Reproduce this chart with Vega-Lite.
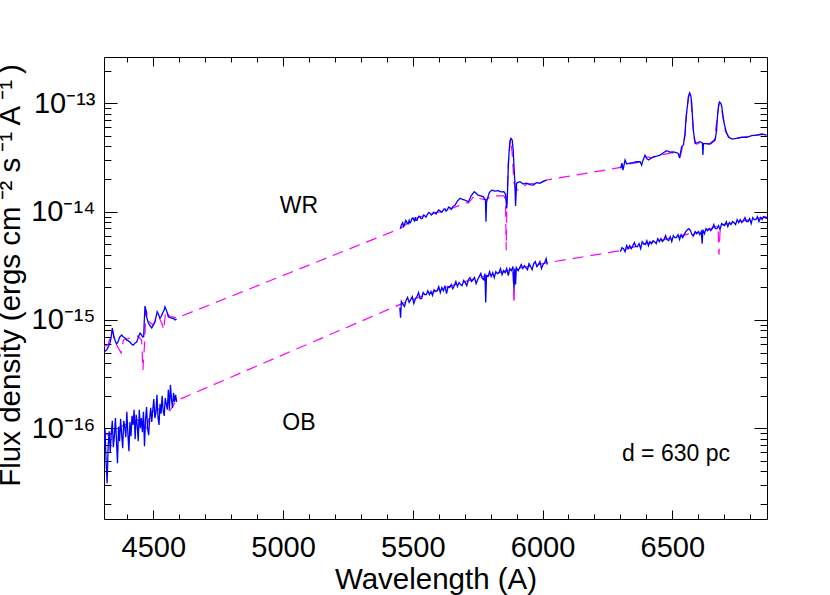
{
  "$schema": "https://vega.github.io/schema/vega-lite/v6.json",
  "width": 663,
  "height": 462,
  "autosize": {"type": "none"},
  "padding": {"left": 104, "top": 57, "right": 63, "bottom": 76},
  "background": "white",
  "config": {"view": {"stroke": null}, "font": "Liberation Sans"},
  "datasets": {
    "model": [
      {"g":"WRm","w":4310,"f":5.7e-16},{"g":"WRm","w":4325,"f":5.86e-16},{"g":"WRm","w":4342,"f":8.1e-16},{"g":"WRm","w":4352,"f":6.25e-16},{"g":"WRm","w":4376,"f":4.95e-16},{"g":"WRm","w":4385,"f":6.52e-16},{"g":"WRm","w":4410,"f":6.81e-16},{"g":"WRm","w":4440,"f":7.1e-16},{"g":"WRm","w":4455,"f":6.52e-16},{"g":"WRm","w":4460,"f":3.45e-16},{"g":"WRm","w":4466,"f":5.86e-16},{"g":"WRm","w":4472,"f":1.23e-15},{"g":"WRm","w":4485,"f":9.56e-16},{"g":"WRm","w":4500,"f":8.97e-16},{"g":"WRm","w":4520,"f":1.09e-15},{"g":"WRm","w":4535,"f":8.97e-16},{"g":"WRm","w":4540,"f":8.07e-16},{"g":"WRm","w":4548,"f":1.23e-15},{"g":"WRm","w":4560,"f":1.09e-15},{"g":"WRm","w":4590,"f":1.04e-15},
      {"g":"WRm","w":5453,"f":7.0e-15},{"g":"WRm","w":5500,"f":8.5e-15},{"g":"WRm","w":5560,"f":9.5e-15},{"g":"WRm","w":5610,"f":1.0e-14},{"g":"WRm","w":5650,"f":1.07e-14},{"g":"WRm","w":5682,"f":1.15e-14},{"g":"WRm","w":5700,"f":1.22e-14},{"g":"WRm","w":5714,"f":1.2e-14},{"g":"WRm","w":5737,"f":1.4e-14},{"g":"WRm","w":5752,"f":1.33e-14},{"g":"WRm","w":5772,"f":1.3e-14},{"g":"WRm","w":5786,"f":1.3e-14},{"g":"WRm","w":5804,"f":1.4e-14},{"g":"WRm","w":5851,"f":1.4e-14},{"g":"WRm","w":5857,"f":1.3e-14},{"g":"WRm","w":5860,"f":4.4e-15},{"g":"WRm","w":5863,"f":1.2e-14},{"g":"WRm","w":5868,"f":2.79e-14},{"g":"WRm","w":5876,"f":4.65e-14},{"g":"WRm","w":5883,"f":3.45e-14},{"g":"WRm","w":5890,"f":1.83e-14},{"g":"WRm","w":5900,"f":1.58e-14},{"g":"WRm","w":5913,"f":1.6e-14},{"g":"WRm","w":5939,"f":1.8e-14},{"g":"WRm","w":5990,"f":1.85e-14},{"g":"WRm","w":6016,"f":1.96e-14},
      {"g":"WRm","w":6301,"f":2.56e-14},{"g":"WRm","w":6330,"f":2.75e-14},{"g":"WRm","w":6370,"f":2.85e-14},{"g":"WRm","w":6395,"f":3.2e-14},{"g":"WRm","w":6420,"f":3.15e-14},{"g":"WRm","w":6460,"f":3.35e-14},{"g":"WRm","w":6500,"f":3.5e-14},{"g":"WRm","w":6520,"f":3.35e-14},{"g":"WRm","w":6530,"f":3.2e-14},{"g":"WRm","w":6540,"f":4.0e-14},{"g":"WRm","w":6549,"f":5.0e-14},{"g":"WRm","w":6555,"f":8.0e-14},{"g":"WRm","w":6562,"f":1.15e-13},{"g":"WRm","w":6567,"f":1.22e-13},{"g":"WRm","w":6572,"f":1.1e-13},{"g":"WRm","w":6578,"f":7.0e-14},{"g":"WRm","w":6584,"f":4.8e-14},{"g":"WRm","w":6592,"f":4.2e-14},{"g":"WRm","w":6610,"f":4.3e-14},{"g":"WRm","w":6640,"f":4.2e-14},{"g":"WRm","w":6662,"f":4.6e-14},{"g":"WRm","w":6672,"f":7.0e-14},{"g":"WRm","w":6679,"f":9.6e-14},{"g":"WRm","w":6684,"f":1.0e-13},{"g":"WRm","w":6690,"f":9.0e-14},{"g":"WRm","w":6697,"f":7.0e-14},{"g":"WRm","w":6705,"f":5.5e-14},{"g":"WRm","w":6720,"f":4.8e-14},{"g":"WRm","w":6760,"f":4.8e-14},{"g":"WRm","w":6800,"f":5.0e-14},{"g":"WRm","w":6864,"f":5.2e-14},
      {"g":"OBm","w":4310,"f":9.0e-17},{"g":"OBm","w":4330,"f":8.5e-17},{"g":"OBm","w":4360,"f":1.0e-16},{"g":"OBm","w":4400,"f":1.1e-16},{"g":"OBm","w":4440,"f":1.2e-16},{"g":"OBm","w":4474,"f":9.6e-17},{"g":"OBm","w":4487,"f":1.39e-16},{"g":"OBm","w":4520,"f":1.5e-16},{"g":"OBm","w":4564,"f":1.45e-16},{"g":"OBm","w":4590,"f":1.8e-16},
      {"g":"OBm","w":5451,"f":1.39e-15},{"g":"OBm","w":5600,"f":1.9e-15},{"g":"OBm","w":5700,"f":2.26e-15},{"g":"OBm","w":5800,"f":2.62e-15},{"g":"OBm","w":5880,"f":2.91e-15},{"g":"OBm","w":5886,"f":2.95e-15},{"g":"OBm","w":5890,"f":1.4e-15},{"g":"OBm","w":5894,"f":2.95e-15},{"g":"OBm","w":6020,"f":3.38e-15},
      {"g":"OBm","w":6300,"f":4.36e-15},{"g":"OBm","w":6400,"f":5.06e-15},{"g":"OBm","w":6500,"f":5.75e-15},{"g":"OBm","w":6560,"f":6.2e-15},{"g":"OBm","w":6575,"f":6.6e-15},{"g":"OBm","w":6580,"f":5.9e-15},{"g":"OBm","w":6585,"f":6.3e-15},{"g":"OBm","w":6650,"f":7.0e-15},{"g":"OBm","w":6676,"f":7.4e-15},{"g":"OBm","w":6680,"f":4.01e-15},{"g":"OBm","w":6685,"f":7.5e-15},{"g":"OBm","w":6750,"f":8.0e-15},{"g":"OBm","w":6864,"f":9.0e-15}
    ],
    "obs": [
      {"g":"WR1","w":4310,"f":5.05e-16},{"g":"WR1","w":4320,"f":5.27e-16},{"g":"WR1","w":4326,"f":5.6e-16},{"g":"WR1","w":4333,"f":6.12e-16},{"g":"WR1","w":4337,"f":6.8e-16},{"g":"WR1","w":4342,"f":8.42e-16},{"g":"WR1","w":4347,"f":7.2e-16},{"g":"WR1","w":4352,"f":6.52e-16},{"g":"WR1","w":4358,"f":6.0e-16},{"g":"WR1","w":4364,"f":6.25e-16},{"g":"WR1","w":4370,"f":6.9e-16},{"g":"WR1","w":4378,"f":7.25e-16},{"g":"WR1","w":4384,"f":7.0e-16},{"g":"WR1","w":4391,"f":6.81e-16},{"g":"WR1","w":4398,"f":6.5e-16},{"g":"WR1","w":4404,"f":6.4e-16},{"g":"WR1","w":4410,"f":6.25e-16},{"g":"WR1","w":4416,"f":6.0e-16},{"g":"WR1","w":4423,"f":5.86e-16},{"g":"WR1","w":4429,"f":6.1e-16},{"g":"WR1","w":4436,"f":6.25e-16},{"g":"WR1","w":4443,"f":7.0e-16},{"g":"WR1","w":4449,"f":7.57e-16},{"g":"WR1","w":4454,"f":7.3e-16},{"g":"WR1","w":4459,"f":6.95e-16},{"g":"WR1","w":4463,"f":7.0e-16},{"g":"WR1","w":4465,"f":9.5e-16},{"g":"WR1","w":4468,"f":1.343e-15},{"g":"WR1","w":4471,"f":1.25e-15},{"g":"WR1","w":4475,"f":1.05e-15},{"g":"WR1","w":4481,"f":9.36e-16},{"g":"WR1","w":4488,"f":8.8e-16},{"g":"WR1","w":4494,"f":8.42e-16},{"g":"WR1","w":4500,"f":9.0e-16},{"g":"WR1","w":4506,"f":9.62e-16},{"g":"WR1","w":4510,"f":1.05e-15},{"g":"WR1","w":4515,"f":1.19e-15},{"g":"WR1","w":4520,"f":1.12e-15},{"g":"WR1","w":4526,"f":1.04e-15},{"g":"WR1","w":4531,"f":1.08e-15},{"g":"WR1","w":4536,"f":1.16e-15},{"g":"WR1","w":4541,"f":1.22e-15},{"g":"WR1","w":4545,"f":1.32e-15},{"g":"WR1","w":4552,"f":1.2e-15},{"g":"WR1","w":4558,"f":1.07e-15},{"g":"WR1","w":4564,"f":1.05e-15},{"g":"WR1","w":4571,"f":1.04e-15},{"g":"WR1","w":4578,"f":1.03e-15},{"g":"WR1","w":4584,"f":1.0e-15},{"g":"WR1","w":4590,"f":1.02e-15},
      {"g":"WR2","w":5453,"f":7.01e-15},{"g":"WR2","w":5455,"f":7.4e-15},{"g":"WR2","w":5458,"f":7.68e-15},{"g":"WR2","w":5461,"f":7.9e-15},{"g":"WR2","w":5464,"f":7.3e-15},{"g":"WR2","w":5467,"f":7.5e-15},{"g":"WR2","w":5470,"f":7.9e-15},{"g":"WR2","w":5473,"f":8.3e-15},{"g":"WR2","w":5476,"f":8.07e-15},{"g":"WR2","w":5479,"f":7.8e-15},{"g":"WR2","w":5482,"f":7.7e-15},{"g":"WR2","w":5486,"f":8.3e-15},{"g":"WR2","w":5489,"f":7.85e-15},{"g":"WR2","w":5492,"f":8.0e-15},{"g":"WR2","w":5495,"f":8.4e-15},{"g":"WR2","w":5498,"f":8.7e-15},{"g":"WR2","w":5501,"f":8.73e-15},{"g":"WR2","w":5504,"f":8.4e-15},{"g":"WR2","w":5507,"f":8.2e-15},{"g":"WR2","w":5510,"f":8.9e-15},{"g":"WR2","w":5512,"f":8.36e-15},{"g":"WR2","w":5516,"f":8.3e-15},{"g":"WR2","w":5520,"f":8.8e-15},{"g":"WR2","w":5524,"f":9.1e-15},{"g":"WR2","w":5528,"f":8.97e-15},{"g":"WR2","w":5532,"f":8.6e-15},{"g":"WR2","w":5537,"f":8.7e-15},{"g":"WR2","w":5542,"f":9.3e-15},{"g":"WR2","w":5547,"f":9.11e-15},{"g":"WR2","w":5551,"f":8.9e-15},{"g":"WR2","w":5556,"f":9.4e-15},{"g":"WR2","w":5561,"f":9.8e-15},{"g":"WR2","w":5566,"f":9.71e-15},{"g":"WR2","w":5571,"f":9.3e-15},{"g":"WR2","w":5576,"f":9.5e-15},{"g":"WR2","w":5581,"f":9.9e-15},{"g":"WR2","w":5586,"f":9.71e-15},{"g":"WR2","w":5590,"f":9.5e-15},{"g":"WR2","w":5595,"f":1.0e-14},{"g":"WR2","w":5600,"f":1.04e-14},{"g":"WR2","w":5605,"f":1.02e-14},{"g":"WR2","w":5609,"f":9.9e-15},{"g":"WR2","w":5614,"f":1.0e-14},{"g":"WR2","w":5619,"f":1.05e-14},{"g":"WR2","w":5624,"f":1.06e-14},{"g":"WR2","w":5628,"f":1.01e-14},{"g":"WR2","w":5633,"f":1.04e-14},{"g":"WR2","w":5638,"f":1.1e-14},{"g":"WR2","w":5643,"f":1.09e-14},{"g":"WR2","w":5648,"f":1.05e-14},{"g":"WR2","w":5653,"f":1.1e-14},{"g":"WR2","w":5658,"f":1.13e-14},{"g":"WR2","w":5663,"f":1.15e-14},{"g":"WR2","w":5672,"f":1.25e-14},{"g":"WR2","w":5682,"f":1.33e-14},{"g":"WR2","w":5691,"f":1.3e-14},{"g":"WR2","w":5701,"f":1.28e-14},{"g":"WR2","w":5714,"f":1.23e-14},{"g":"WR2","w":5725,"f":1.4e-14},{"g":"WR2","w":5737,"f":1.53e-14},{"g":"WR2","w":5745,"f":1.47e-14},{"g":"WR2","w":5752,"f":1.42e-14},{"g":"WR2","w":5762,"f":1.4e-14},{"g":"WR2","w":5772,"f":1.37e-14},{"g":"WR2","w":5778,"f":1.3e-14},{"g":"WR2","w":5780,"f":1.28e-14},{"g":"WR2","w":5782,"f":8.07e-15},{"g":"WR2","w":5784,"f":1.2e-14},{"g":"WR2","w":5786,"f":1.28e-14},{"g":"WR2","w":5795,"f":1.5e-14},{"g":"WR2","w":5804,"f":1.58e-14},{"g":"WR2","w":5816,"f":1.55e-14},{"g":"WR2","w":5829,"f":1.56e-14},{"g":"WR2","w":5840,"f":1.52e-14},{"g":"WR2","w":5851,"f":1.53e-14},{"g":"WR2","w":5857,"f":1.45e-14},{"g":"WR2","w":5862,"f":1.07e-14},{"g":"WR2","w":5865,"f":1.5e-14},{"g":"WR2","w":5868,"f":2.6e-14},{"g":"WR2","w":5871,"f":3.5e-14},{"g":"WR2","w":5874,"f":4.39e-14},{"g":"WR2","w":5878,"f":4.75e-14},{"g":"WR2","w":5883,"f":4.58e-14},{"g":"WR2","w":5887,"f":3.7e-14},{"g":"WR2","w":5890,"f":2.6e-14},{"g":"WR2","w":5893,"f":1.96e-14},{"g":"WR2","w":5896,"f":1.13e-14},{"g":"WR2","w":5900,"f":1.83e-14},{"g":"WR2","w":5906,"f":1.86e-14},{"g":"WR2","w":5913,"f":1.89e-14},{"g":"WR2","w":5926,"f":1.8e-14},{"g":"WR2","w":5939,"f":1.83e-14},{"g":"WR2","w":5951,"f":1.78e-14},{"g":"WR2","w":5964,"f":1.76e-14},{"g":"WR2","w":5977,"f":1.85e-14},{"g":"WR2","w":5990,"f":1.83e-14},{"g":"WR2","w":6003,"f":1.9e-14},{"g":"WR2","w":6016,"f":1.96e-14},
      {"g":"WR3","w":6301,"f":2.51e-14},{"g":"WR3","w":6306,"f":2.81e-14},{"g":"WR3","w":6310,"f":2.42e-14},{"g":"WR3","w":6318,"f":3.0e-14},{"g":"WR3","w":6324,"f":2.75e-14},{"g":"WR3","w":6336,"f":2.8e-14},{"g":"WR3","w":6349,"f":2.83e-14},{"g":"WR3","w":6362,"f":2.9e-14},{"g":"WR3","w":6376,"f":2.89e-14},{"g":"WR3","w":6382,"f":2.69e-14},{"g":"WR3","w":6387,"f":2.97e-14},{"g":"WR3","w":6395,"f":3.33e-14},{"g":"WR3","w":6401,"f":3.1e-14},{"g":"WR3","w":6408,"f":3.0e-14},{"g":"WR3","w":6417,"f":3.1e-14},{"g":"WR3","w":6427,"f":3.21e-14},{"g":"WR3","w":6440,"f":3.25e-14},{"g":"WR3","w":6453,"f":3.33e-14},{"g":"WR3","w":6466,"f":3.5e-14},{"g":"WR3","w":6478,"f":3.65e-14},{"g":"WR3","w":6491,"f":3.55e-14},{"g":"WR3","w":6504,"f":3.57e-14},{"g":"WR3","w":6515,"f":3.5e-14},{"g":"WR3","w":6523,"f":3.45e-14},{"g":"WR3","w":6528,"f":3.13e-14},{"g":"WR3","w":6536,"f":3.97e-14},{"g":"WR3","w":6543,"f":4.12e-14},{"g":"WR3","w":6549,"f":5.28e-14},{"g":"WR3","w":6554,"f":7.8e-14},{"g":"WR3","w":6558,"f":9.3e-14},{"g":"WR3","w":6563,"f":1.17e-13},{"g":"WR3","w":6567,"f":1.25e-13},{"g":"WR3","w":6571,"f":1.19e-13},{"g":"WR3","w":6575,"f":1.0e-13},{"g":"WR3","w":6578,"f":7.32e-14},{"g":"WR3","w":6581,"f":5.67e-14},{"g":"WR3","w":6588,"f":4.27e-14},{"g":"WR3","w":6598,"f":4.35e-14},{"g":"WR3","w":6607,"f":4.42e-14},{"g":"WR3","w":6616,"f":4.3e-14},{"g":"WR3","w":6618,"f":3.33e-14},{"g":"WR3","w":6620,"f":4.27e-14},{"g":"WR3","w":6633,"f":4.25e-14},{"g":"WR3","w":6646,"f":4.21e-14},{"g":"WR3","w":6656,"f":4.4e-14},{"g":"WR3","w":6665,"f":4.58e-14},{"g":"WR3","w":6671,"f":5.67e-14},{"g":"WR3","w":6674,"f":7.52e-14},{"g":"WR3","w":6679,"f":9.85e-14},{"g":"WR3","w":6682,"f":1.03e-13},{"g":"WR3","w":6687,"f":1.0e-13},{"g":"WR3","w":6691,"f":9.3e-14},{"g":"WR3","w":6696,"f":7.47e-14},{"g":"WR3","w":6700,"f":6.54e-14},{"g":"WR3","w":6708,"f":5.43e-14},{"g":"WR3","w":6716,"f":4.91e-14},{"g":"WR3","w":6730,"f":4.68e-14},{"g":"WR3","w":6748,"f":4.75e-14},{"g":"WR3","w":6768,"f":4.88e-14},{"g":"WR3","w":6787,"f":4.85e-14},{"g":"WR3","w":6806,"f":5.04e-14},{"g":"WR3","w":6825,"f":5.1e-14},{"g":"WR3","w":6845,"f":5.21e-14},{"g":"WR3","w":6864,"f":5.1e-14},
      {"g":"OB1","w":4310,"f":6.97e-17},{"g":"OB1","w":4314,"f":9.79e-17},{"g":"OB1","w":4318,"f":4.96e-17},{"g":"OB1","w":4322,"f":3.11e-17},{"g":"OB1","w":4326,"f":6.82e-17},{"g":"OB1","w":4330,"f":9.38e-17},{"g":"OB1","w":4334,"f":6.0e-17},{"g":"OB1","w":4338,"f":8.99e-17},{"g":"OB1","w":4342,"f":1.17e-16},{"g":"OB1","w":4346,"f":6.68e-17},{"g":"OB1","w":4350,"f":8.44e-17},{"g":"OB1","w":4354,"f":1.24e-16},{"g":"OB1","w":4358,"f":7.75e-17},{"g":"OB1","w":4362,"f":4.75e-17},{"g":"OB1","w":4366,"f":1.03e-16},{"g":"OB1","w":4370,"f":7.59e-17},{"g":"OB1","w":4374,"f":1.22e-16},{"g":"OB1","w":4378,"f":8.8e-17},{"g":"OB1","w":4382,"f":6.54e-17},{"g":"OB1","w":4386,"f":1.17e-16},{"g":"OB1","w":4390,"f":1.03e-16},{"g":"OB1","w":4394,"f":8.26e-17},{"g":"OB1","w":4398,"f":1.42e-16},{"g":"OB1","w":4402,"f":8.99e-17},{"g":"OB1","w":4406,"f":6.13e-17},{"g":"OB1","w":4410,"f":1.14e-16},{"g":"OB1","w":4414,"f":8.44e-17},{"g":"OB1","w":4418,"f":1.3e-16},{"g":"OB1","w":4422,"f":1.07e-16},{"g":"OB1","w":4426,"f":1.48e-16},{"g":"OB1","w":4430,"f":7.92e-17},{"g":"OB1","w":4434,"f":1.33e-16},{"g":"OB1","w":4438,"f":1.07e-16},{"g":"OB1","w":4442,"f":7.59e-17},{"g":"OB1","w":4446,"f":1.48e-16},{"g":"OB1","w":4450,"f":1.0e-16},{"g":"OB1","w":4454,"f":1.24e-16},{"g":"OB1","w":4458,"f":9.18e-17},{"g":"OB1","w":4462,"f":1.42e-16},{"g":"OB1","w":4466,"f":6.82e-17},{"g":"OB1","w":4470,"f":1.19e-16},{"g":"OB1","w":4474,"f":1.57e-16},{"g":"OB1","w":4478,"f":1.0e-16},{"g":"OB1","w":4482,"f":8.62e-17},{"g":"OB1","w":4486,"f":1.22e-16},{"g":"OB1","w":4490,"f":1.54e-16},{"g":"OB1","w":4494,"f":1.14e-16},{"g":"OB1","w":4498,"f":1.48e-16},{"g":"OB1","w":4502,"f":1.86e-16},{"g":"OB1","w":4506,"f":1.24e-16},{"g":"OB1","w":4510,"f":1.39e-16},{"g":"OB1","w":4514,"f":2.03e-16},{"g":"OB1","w":4518,"f":1.27e-16},{"g":"OB1","w":4522,"f":1.07e-16},{"g":"OB1","w":4526,"f":1.68e-16},{"g":"OB1","w":4530,"f":1.36e-16},{"g":"OB1","w":4534,"f":1.99e-16},{"g":"OB1","w":4538,"f":1.45e-16},{"g":"OB1","w":4542,"f":1.3e-16},{"g":"OB1","w":4546,"f":1.9e-16},{"g":"OB1","w":4550,"f":1.68e-16},{"g":"OB1","w":4554,"f":1.48e-16},{"g":"OB1","w":4558,"f":2.26e-16},{"g":"OB1","w":4562,"f":1.48e-16},{"g":"OB1","w":4566,"f":2.51e-16},{"g":"OB1","w":4570,"f":1.86e-16},{"g":"OB1","w":4574,"f":1.54e-16},{"g":"OB1","w":4578,"f":2.12e-16},{"g":"OB1","w":4582,"f":1.75e-16},{"g":"OB1","w":4586,"f":2.03e-16},{"g":"OB1","w":4590,"f":1.75e-16},
      {"g":"OB2","w":5450,"f":1.3e-15},{"g":"OB2","w":5453,"f":1.05e-15},{"g":"OB2","w":5456,"f":1.48e-15},{"g":"OB2","w":5462,"f":1.39e-15},{"g":"OB2","w":5468,"f":1.33e-15},{"g":"OB2","w":5474,"f":1.51e-15},{"g":"OB2","w":5480,"f":1.61e-15},{"g":"OB2","w":5486,"f":1.45e-15},{"g":"OB2","w":5492,"f":1.54e-15},{"g":"OB2","w":5498,"f":1.64e-15},{"g":"OB2","w":5504,"f":1.42e-15},{"g":"OB2","w":5510,"f":1.57e-15},{"g":"OB2","w":5516,"f":1.64e-15},{"g":"OB2","w":5522,"f":1.79e-15},{"g":"OB2","w":5528,"f":1.57e-15},{"g":"OB2","w":5534,"f":1.57e-15},{"g":"OB2","w":5540,"f":1.79e-15},{"g":"OB2","w":5546,"f":1.71e-15},{"g":"OB2","w":5552,"f":1.71e-15},{"g":"OB2","w":5558,"f":1.86e-15},{"g":"OB2","w":5564,"f":1.71e-15},{"g":"OB2","w":5570,"f":1.83e-15},{"g":"OB2","w":5576,"f":1.68e-15},{"g":"OB2","w":5582,"f":1.9e-15},{"g":"OB2","w":5588,"f":1.83e-15},{"g":"OB2","w":5594,"f":1.86e-15},{"g":"OB2","w":5600,"f":2.03e-15},{"g":"OB2","w":5606,"f":1.79e-15},{"g":"OB2","w":5612,"f":1.99e-15},{"g":"OB2","w":5618,"f":1.86e-15},{"g":"OB2","w":5624,"f":2.07e-15},{"g":"OB2","w":5630,"f":1.75e-15},{"g":"OB2","w":5636,"f":2.03e-15},{"g":"OB2","w":5642,"f":1.99e-15},{"g":"OB2","w":5648,"f":2.12e-15},{"g":"OB2","w":5654,"f":1.94e-15},{"g":"OB2","w":5660,"f":2.07e-15},{"g":"OB2","w":5666,"f":2.26e-15},{"g":"OB2","w":5672,"f":2.03e-15},{"g":"OB2","w":5678,"f":2.21e-15},{"g":"OB2","w":5684,"f":2.12e-15},{"g":"OB2","w":5690,"f":2.07e-15},{"g":"OB2","w":5696,"f":2.31e-15},{"g":"OB2","w":5702,"f":2.21e-15},{"g":"OB2","w":5708,"f":2.07e-15},{"g":"OB2","w":5714,"f":2.35e-15},{"g":"OB2","w":5720,"f":2.46e-15},{"g":"OB2","w":5726,"f":2.26e-15},{"g":"OB2","w":5732,"f":2.35e-15},{"g":"OB2","w":5738,"f":2.46e-15},{"g":"OB2","w":5744,"f":2.16e-15},{"g":"OB2","w":5750,"f":2.35e-15},{"g":"OB2","w":5756,"f":2.51e-15},{"g":"OB2","w":5762,"f":2.68e-15},{"g":"OB2","w":5768,"f":2.41e-15},{"g":"OB2","w":5774,"f":2.35e-15},{"g":"OB2","w":5778,"f":2.68e-15},{"g":"OB2","w":5781,"f":1.45e-15},{"g":"OB2","w":5784,"f":2.56e-15},{"g":"OB2","w":5790,"f":2.51e-15},{"g":"OB2","w":5796,"f":2.79e-15},{"g":"OB2","w":5802,"f":2.51e-15},{"g":"OB2","w":5808,"f":2.73e-15},{"g":"OB2","w":5814,"f":2.46e-15},{"g":"OB2","w":5820,"f":2.79e-15},{"g":"OB2","w":5826,"f":2.68e-15},{"g":"OB2","w":5832,"f":2.73e-15},{"g":"OB2","w":5838,"f":2.98e-15},{"g":"OB2","w":5844,"f":2.62e-15},{"g":"OB2","w":5850,"f":2.85e-15},{"g":"OB2","w":5856,"f":2.73e-15},{"g":"OB2","w":5862,"f":2.98e-15},{"g":"OB2","w":5868,"f":2.56e-15},{"g":"OB2","w":5874,"f":2.98e-15},{"g":"OB2","w":5880,"f":2.85e-15},{"g":"OB2","w":5886,"f":3.11e-15},{"g":"OB2","w":5890,"f":1.9e-15},{"g":"OB2","w":5893,"f":2.98e-15},{"g":"OB2","w":5896,"f":2.12e-15},{"g":"OB2","w":5899,"f":3.04e-15},{"g":"OB2","w":5906,"f":2.85e-15},{"g":"OB2","w":5912,"f":3.04e-15},{"g":"OB2","w":5918,"f":3.24e-15},{"g":"OB2","w":5924,"f":2.98e-15},{"g":"OB2","w":5930,"f":3.17e-15},{"g":"OB2","w":5936,"f":3.04e-15},{"g":"OB2","w":5942,"f":2.91e-15},{"g":"OB2","w":5948,"f":3.31e-15},{"g":"OB2","w":5954,"f":3.11e-15},{"g":"OB2","w":5960,"f":2.91e-15},{"g":"OB2","w":5966,"f":3.31e-15},{"g":"OB2","w":5972,"f":3.45e-15},{"g":"OB2","w":5978,"f":3.11e-15},{"g":"OB2","w":5984,"f":3.24e-15},{"g":"OB2","w":5990,"f":3.45e-15},{"g":"OB2","w":5996,"f":2.98e-15},{"g":"OB2","w":6002,"f":3.24e-15},{"g":"OB2","w":6008,"f":3.38e-15},{"g":"OB2","w":6014,"f":3.68e-15},{"g":"OB2","w":6018,"f":3.24e-15},
      {"g":"OB3","w":6300,"f":4.27e-15},{"g":"OB3","w":6306,"f":4.65e-15},{"g":"OB3","w":6312,"f":4.55e-15},{"g":"OB3","w":6318,"f":4.27e-15},{"g":"OB3","w":6324,"f":4.85e-15},{"g":"OB3","w":6330,"f":4.55e-15},{"g":"OB3","w":6336,"f":4.85e-15},{"g":"OB3","w":6342,"f":4.55e-15},{"g":"OB3","w":6348,"f":4.85e-15},{"g":"OB3","w":6354,"f":5.17e-15},{"g":"OB3","w":6360,"f":4.75e-15},{"g":"OB3","w":6366,"f":4.75e-15},{"g":"OB3","w":6372,"f":5.06e-15},{"g":"OB3","w":6378,"f":4.55e-15},{"g":"OB3","w":6384,"f":5.28e-15},{"g":"OB3","w":6390,"f":5.06e-15},{"g":"OB3","w":6396,"f":4.96e-15},{"g":"OB3","w":6402,"f":5.4e-15},{"g":"OB3","w":6408,"f":4.85e-15},{"g":"OB3","w":6414,"f":5.28e-15},{"g":"OB3","w":6420,"f":5.06e-15},{"g":"OB3","w":6426,"f":5.4e-15},{"g":"OB3","w":6432,"f":5.28e-15},{"g":"OB3","w":6438,"f":5.06e-15},{"g":"OB3","w":6444,"f":5.63e-15},{"g":"OB3","w":6450,"f":5.28e-15},{"g":"OB3","w":6456,"f":5.63e-15},{"g":"OB3","w":6462,"f":5.28e-15},{"g":"OB3","w":6468,"f":5.51e-15},{"g":"OB3","w":6474,"f":6.0e-15},{"g":"OB3","w":6480,"f":5.51e-15},{"g":"OB3","w":6486,"f":5.4e-15},{"g":"OB3","w":6492,"f":5.88e-15},{"g":"OB3","w":6498,"f":5.28e-15},{"g":"OB3","w":6504,"f":6.0e-15},{"g":"OB3","w":6510,"f":5.75e-15},{"g":"OB3","w":6516,"f":5.75e-15},{"g":"OB3","w":6522,"f":6.13e-15},{"g":"OB3","w":6528,"f":5.51e-15},{"g":"OB3","w":6534,"f":6.13e-15},{"g":"OB3","w":6540,"f":5.75e-15},{"g":"OB3","w":6546,"f":6.13e-15},{"g":"OB3","w":6552,"f":6.54e-15},{"g":"OB3","w":6558,"f":6.82e-15},{"g":"OB3","w":6564,"f":6.97e-15},{"g":"OB3","w":6570,"f":6.68e-15},{"g":"OB3","w":6576,"f":6.13e-15},{"g":"OB3","w":6582,"f":6.0e-15},{"g":"OB3","w":6588,"f":6.54e-15},{"g":"OB3","w":6594,"f":6.26e-15},{"g":"OB3","w":6600,"f":6.54e-15},{"g":"OB3","w":6606,"f":6.13e-15},{"g":"OB3","w":6612,"f":6.54e-15},{"g":"OB3","w":6615,"f":5.06e-15},{"g":"OB3","w":6618,"f":6.82e-15},{"g":"OB3","w":6624,"f":6.26e-15},{"g":"OB3","w":6630,"f":6.97e-15},{"g":"OB3","w":6636,"f":6.68e-15},{"g":"OB3","w":6642,"f":6.97e-15},{"g":"OB3","w":6648,"f":6.68e-15},{"g":"OB3","w":6654,"f":6.97e-15},{"g":"OB3","w":6660,"f":7.59e-15},{"g":"OB3","w":6666,"f":6.97e-15},{"g":"OB3","w":6672,"f":6.97e-15},{"g":"OB3","w":6678,"f":7.43e-15},{"g":"OB3","w":6684,"f":6.82e-15},{"g":"OB3","w":6690,"f":7.75e-15},{"g":"OB3","w":6696,"f":7.59e-15},{"g":"OB3","w":6702,"f":7.43e-15},{"g":"OB3","w":6708,"f":8.09e-15},{"g":"OB3","w":6714,"f":7.27e-15},{"g":"OB3","w":6720,"f":7.92e-15},{"g":"OB3","w":6726,"f":7.59e-15},{"g":"OB3","w":6732,"f":8.09e-15},{"g":"OB3","w":6738,"f":7.92e-15},{"g":"OB3","w":6744,"f":7.59e-15},{"g":"OB3","w":6750,"f":8.44e-15},{"g":"OB3","w":6756,"f":7.92e-15},{"g":"OB3","w":6762,"f":8.44e-15},{"g":"OB3","w":6768,"f":7.92e-15},{"g":"OB3","w":6774,"f":8.26e-15},{"g":"OB3","w":6780,"f":8.8e-15},{"g":"OB3","w":6786,"f":8.09e-15},{"g":"OB3","w":6792,"f":8.09e-15},{"g":"OB3","w":6798,"f":8.62e-15},{"g":"OB3","w":6804,"f":7.75e-15},{"g":"OB3","w":6810,"f":8.8e-15},{"g":"OB3","w":6816,"f":8.44e-15},{"g":"OB3","w":6822,"f":8.44e-15},{"g":"OB3","w":6828,"f":8.99e-15},{"g":"OB3","w":6834,"f":8.09e-15},{"g":"OB3","w":6840,"f":8.8e-15},{"g":"OB3","w":6846,"f":8.44e-15},{"g":"OB3","w":6852,"f":8.99e-15},{"g":"OB3","w":6858,"f":8.8e-15},{"g":"OB3","w":6864,"f":8.62e-15}
    ],
    "notes": [
      {"t":"WR","w":5061,"f":9.7e-15},
      {"t":"OB","w":5061,"f":9.7e-17},
      {"t":"d = 630 pc","w":6514,"f":4.93e-17}
    ]
  },
  "resolve": {"axis": {"x": "independent", "y": "independent"}},
  "layer": [
    {
      "data": {"name": "model"},
      "mark": {"type": "line", "color": "#ff00ff", "strokeWidth": 1.2, "strokeDash": [11, 7], "clip": true},
      "encoding": {
        "x": {"field": "w", "type": "quantitative",
          "scale": {"domain": [4310, 6865], "nice": false, "zero": false},
          "axis": {"orient": "bottom", "grid": false,
            "values": [4400,4500,4600,4700,4800,4900,5000,5100,5200,5300,5400,5500,5600,5700,5800,5900,6000,6100,6200,6300,6400,6500,6600,6700,6800],
            "format": "d",
            "labelExpr": "datum.value % 500 === 0 ? datum.label : ''",
            "tickSize": {"condition": {"test": "datum.value % 500 === 0", "value": -9}, "value": -5},
            "tickColor": "#000", "tickWidth": 1, "domainColor": "#000", "domainWidth": 1,
            "labelFont": "Liberation Sans", "labelFontSize": 29, "labelColor": "#000", "labelPadding": 23,
            "labelOverlap": false, "labelFlush": false, "labelBound": false,
            "title": "Wavelength (A)", "titleFont": "Liberation Sans", "titleFontSize": 29.5, "titleFontWeight": "normal",
            "titleColor": "#000", "titleY": 69, "titleBaseline": "alphabetic"}},
        "y": {"field": "f", "type": "quantitative",
          "scale": {"type": "log", "domain": [1.45e-17, 2.68e-13], "nice": false},
          "axis": {"orient": "left", "grid": false,
            "values": [2e-17,3e-17,4e-17,5e-17,6e-17,7e-17,8e-17,9e-17,1e-16,2e-16,3e-16,4e-16,5e-16,6e-16,7e-16,8e-16,9e-16,1e-15,2e-15,3e-15,4e-15,5e-15,6e-15,7e-15,8e-15,9e-15,1e-14,2e-14,3e-14,4e-14,5e-14,6e-14,7e-14,8e-14,9e-14,1e-13,2e-13],
            "labelExpr": "abs(log(datum.value)/LN10 - round(log(datum.value)/LN10)) > 0.001 ? '' : (round(log(datum.value)/LN10) == -13 ? '10⁻¹³' : (round(log(datum.value)/LN10) == -14 ? '10⁻¹⁴' : (round(log(datum.value)/LN10) == -15 ? '10⁻¹⁵' : '10⁻¹⁶')))",
            "tickSize": {"condition": {"test": "abs(log(datum.value)/LN10 - round(log(datum.value)/LN10)) < 0.001", "value": -13}, "value": -7},
            "tickColor": "#000", "tickWidth": 1, "domainColor": "#000", "domainWidth": 1,
            "labelFont": "Liberation Sans", "labelFontSize": 29, "labelColor": "#000", "labelPadding": 22,
            "labelOverlap": false, "labelFlush": false, "labelBound": false, "labelBaseline": "middle",
            "title": "Flux density (ergs cm\u2009⁻² s\u2009⁻¹ A\u2009⁻¹\u2009)", "titleFont": "Liberation Sans", "titleFontSize": 29.5, "titleFontWeight": "normal",
            "titleColor": "#000", "titleX": -85, "titleY": 218, "titleAngle": -90, "titleBaseline": "alphabetic", "titleAlign": "center"}},
        "detail": {"field": "g"}
      }
    },
    {
      "data": {"name": "obs"},
      "mark": {"type": "line", "color": "#0000ff", "strokeWidth": 1.3, "clip": true},
      "encoding": {
        "x": {"field": "w", "type": "quantitative",
          "scale": {"domain": [4310, 6865], "nice": false, "zero": false},
          "axis": {"orient": "top", "grid": false, "labels": false, "title": null,
            "values": [4400,4500,4600,4700,4800,4900,5000,5100,5200,5300,5400,5500,5600,5700,5800,5900,6000,6100,6200,6300,6400,6500,6600,6700,6800],
            "tickSize": {"condition": {"test": "datum.value % 500 === 0", "value": -9}, "value": -5},
            "tickColor": "#000", "tickWidth": 1, "domainColor": "#000", "domainWidth": 1}},
        "y": {"field": "f", "type": "quantitative",
          "scale": {"type": "log", "domain": [1.45e-17, 2.68e-13], "nice": false},
          "axis": {"orient": "right", "grid": false, "labels": false, "title": null,
            "values": [2e-17,3e-17,4e-17,5e-17,6e-17,7e-17,8e-17,9e-17,1e-16,2e-16,3e-16,4e-16,5e-16,6e-16,7e-16,8e-16,9e-16,1e-15,2e-15,3e-15,4e-15,5e-15,6e-15,7e-15,8e-15,9e-15,1e-14,2e-14,3e-14,4e-14,5e-14,6e-14,7e-14,8e-14,9e-14,1e-13,2e-13],
            "tickSize": {"condition": {"test": "abs(log(datum.value)/LN10 - round(log(datum.value)/LN10)) < 0.001", "value": -13}, "value": -7},
            "tickColor": "#000", "tickWidth": 1, "domainColor": "#000", "domainWidth": 1}},
        "detail": {"field": "g"}
      }
    },
    {
      "data": {"name": "notes"},
      "mark": {"type": "text", "font": "Liberation Sans", "fontSize": 23, "color": "#000", "align": "center", "baseline": "alphabetic"},
      "encoding": {
        "x": {"field": "w", "type": "quantitative", "scale": {"domain": [4310, 6865], "nice": false, "zero": false}, "axis": null},
        "y": {"field": "f", "type": "quantitative", "scale": {"type": "log", "domain": [1.45e-17, 2.68e-13], "nice": false}, "axis": null},
        "text": {"field": "t"}
      }
    }
  ]
}
